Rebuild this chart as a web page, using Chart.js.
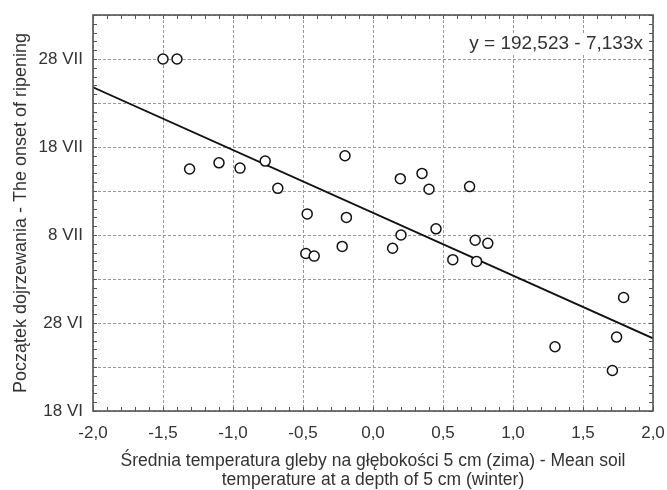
<!DOCTYPE html>
<html lang="pl">
<head>
<meta charset="UTF-8">
<title>Początek dojrzewania</title>
<script src="https://cdn.jsdelivr.net/npm/chart.js"></script>
<style>
  html, body { margin: 0; padding: 0; background: #fff; }
</style>
</head>
<body>
<canvas id="chart" width="667" height="490"></canvas>
<script>
// winter soil temperature at 5 cm (x) vs onset of ripening as day of year (y)
const soilTemp = [-1.50, -1.40, -1.31, -1.10, -0.95, -0.77, -0.68, -0.20, -0.47, -0.19,
                  -0.48, -0.42, -0.22, 0.195, 0.35, 0.40, 0.14, 0.20, 0.45, 0.57,
                  0.69, 0.73, 0.82, 0.74, 1.79, 1.74, 1.30, 1.71];
const onsetDay = [210.0, 210.0, 197.5, 198.2, 197.6, 198.4, 195.3, 199.0, 192.4, 192.0,
                  187.9, 187.6, 188.7, 196.4, 197.0, 195.2, 188.5, 190.0, 190.7, 187.2,
                  195.5, 189.4, 189.05, 187.0, 182.9, 178.4, 177.3, 174.6];

// date labels on the y axis (day of year, leap year)
const yTickValues = [170, 180, 190, 200, 210];
const yTickLabels = ['18 VI', '28 VI', '8 VII', '18 VII', '28 VII'];

// fitted line y = 192,523 - 7,133x
const intercept = 192.523;
const slope = -7.133;
const lineX = [-2, 2];

const textColor = '#333';
const fontFamily = '"Liberation Sans", Arial, sans-serif';

// frame, inward minor ticks and the equation label
const framePlugin = {
    id: 'frame',
    afterDraw(chart) {
        const {ctx, chartArea: a, scales: {x, y}} = chart;
        ctx.save();
        ctx.strokeStyle = '#555';
        ctx.lineWidth = 1;
        ctx.beginPath();
        for (let v = -2; v <= 2.0001; v += 0.1) {
            const px = Math.round(x.getPixelForValue(v)) + 0.5;
            ctx.moveTo(px, a.bottom); ctx.lineTo(px, a.bottom - 4);
            ctx.moveTo(px, a.top); ctx.lineTo(px, a.top + 4);
        }
        for (let v = 170; v <= 215; v += 1) {
            const py = Math.round(y.getPixelForValue(v)) + 0.5;
            ctx.moveTo(a.left, py); ctx.lineTo(a.left + 4, py);
            ctx.moveTo(a.right, py); ctx.lineTo(a.right - 4, py);
        }
        ctx.stroke();
        ctx.lineWidth = 1.6;
        ctx.strokeRect(a.left, a.top, a.right - a.left, a.bottom - a.top);

        const eq = 'y = 192,523 - 7,133x';
        ctx.font = '19px ' + fontFamily;
        const w = ctx.measureText(eq).width;
        const ex = a.right - 10, ey = a.top + 29;
        ctx.fillStyle = '#fff';
        ctx.fillRect(ex - w - 3, ey - 11, w + 6, 22);
        ctx.fillStyle = textColor;
        ctx.textAlign = 'right';
        ctx.textBaseline = 'middle';
        ctx.fillText(eq, ex, ey);
        ctx.restore();
    }
};

new Chart(document.getElementById('chart'), {
    type: 'scatter',
    data: {
        datasets: [{
            data: soilTemp.map((t, i) => ({x: t, y: onsetDay[i]})),
            pointStyle: 'circle',
            pointRadius: 5,
            pointBorderWidth: 1.5,
            borderColor: '#111',
            backgroundColor: '#fff'
        }, {
            type: 'line',
            data: lineX.map(t => ({x: t, y: intercept + slope * t})),
            borderColor: '#111',
            borderWidth: 1.8,
            pointRadius: 0,
            fill: false
        }]
    },
    options: {
        responsive: false,
        animation: false,
        devicePixelRatio: 1,
        layout: { padding: { left: 0, right: 14, top: 15, bottom: 0 } },
        plugins: {
            legend: { display: false },
            tooltip: { enabled: false }
        },
        scales: {
            x: {
                type: 'linear',
                min: -2, max: 2,
                afterFit: s => {
                    s.height = 79;
                    s.paddingLeft = 0;
                    s.paddingRight = 0;
                },
                grid: { color: '#9a9a9a', lineWidth: 1, drawTicks: false },
                border: { display: false, dash: [3, 2] },
                ticks: {
                    stepSize: 0.5,
                    padding: 12,
                    color: textColor,
                    font: { family: fontFamily, size: 17 },
                    callback: v => v.toFixed(1).replace('.', ',')
                },
                title: {
                    display: true,
                    text: ['Średnia temperatura gleby na głębokości 5 cm (zima) - Mean soil',
                           'temperature at a depth of 5 cm (winter)'],
                    color: textColor,
                    font: { family: fontFamily, size: 17.5, lineHeight: 1.05 },
                    padding: { top: 0, bottom: 1 }
                }
            },
            y: {
                min: 170, max: 215,
                afterFit: s => {
                    s.width = 93;
                    s.paddingTop = 0;
                    s.paddingBottom = 0;
                },
                grid: { color: '#9a9a9a', lineWidth: 1, drawTicks: false },
                border: { display: false, dash: [3, 2] },
                ticks: {
                    stepSize: 5,
                    padding: 10,
                    color: textColor,
                    font: { family: fontFamily, size: 17 },
                    callback: v => {
                        const i = yTickValues.indexOf(v);
                        return i >= 0 ? yTickLabels[i] : '';
                    }
                },
                title: {
                    display: true,
                    text: 'Początek dojrzewania - The onset of ripening',
                    color: textColor,
                    font: { family: fontFamily, size: 18 },
                    padding: { top: 10, bottom: 0 }
                }
            }
        }
    },
    plugins: [framePlugin]
});
</script>
</body>
</html>
